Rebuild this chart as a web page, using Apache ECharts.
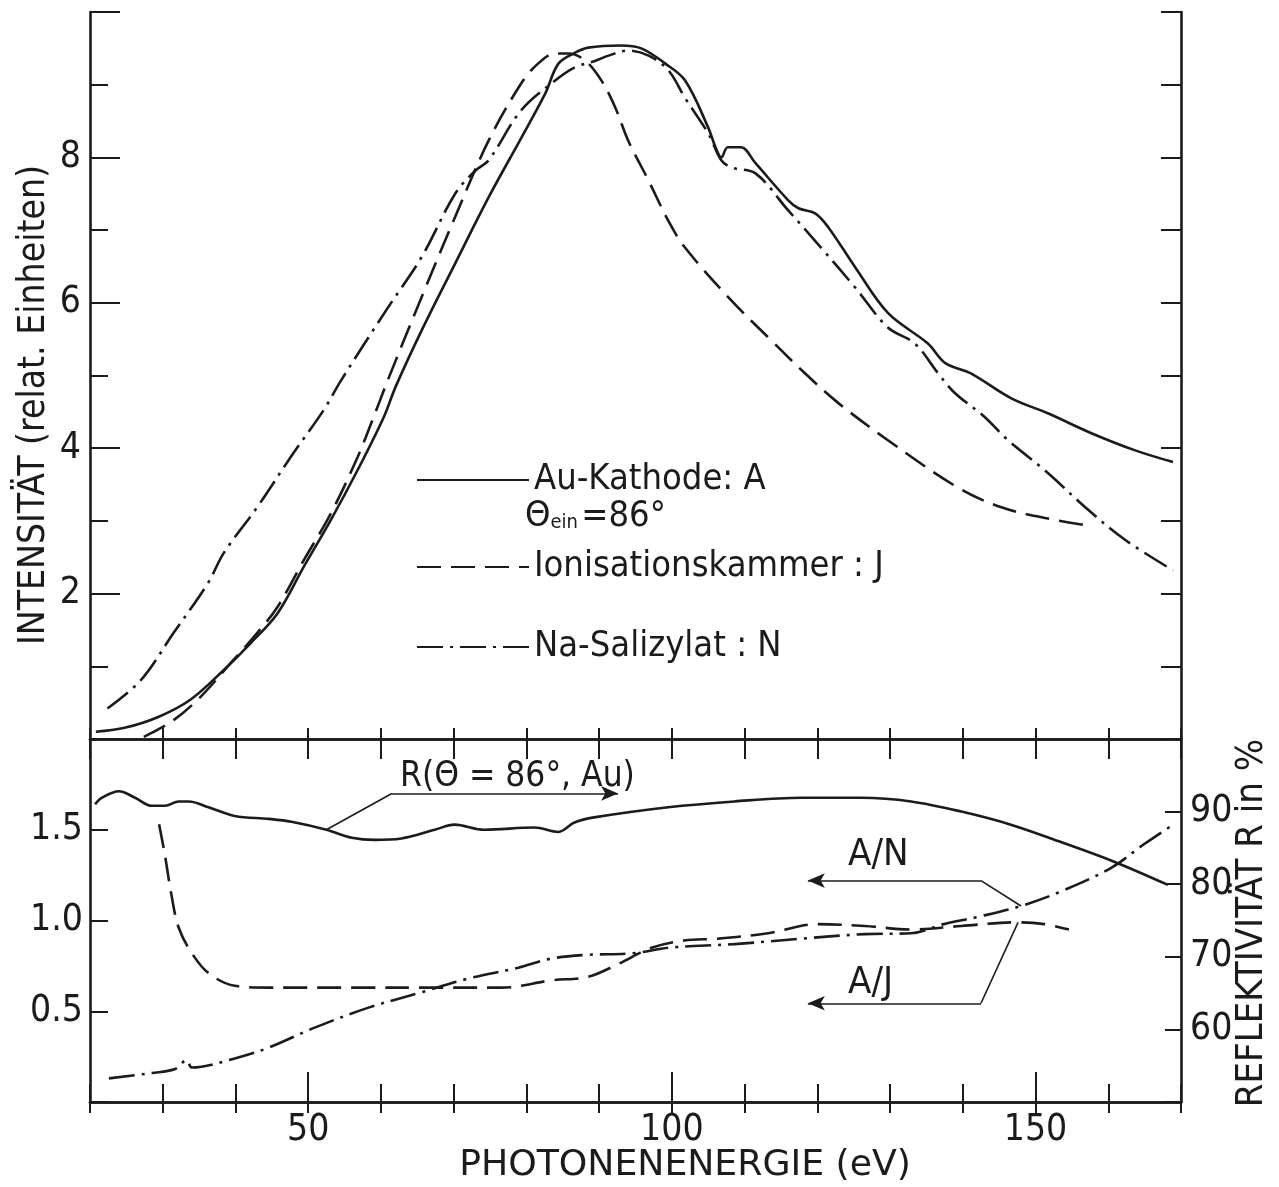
<!DOCTYPE html>
<html><head><meta charset="utf-8">
<script src="https://cdn.jsdelivr.net/npm/echarts@6/dist/echarts.min.js"></script>
<style>html,body{margin:0;padding:0;background:#fff}#c{width:1279px;height:1187px}</style>
</head><body><div id="c"></div>
<script>
// ---------- Data ----------
// Top panel: intensity (relat. units) vs photon energy (eV)
const auE = [20.8,24.6,29.3,33.8,38.4,42.1,45.8,49.4,53.1,56.8,60.4,62.0,65.6,70.2,74.8,79.3,82.6,84.4,86.7,88.5,93.0,95.8,99.1,101.8,105.0,106.0,106.8,107.7,109.5,111.5,116.0,117.4,119.7,121.5,125.2,129.7,135.2,137.6,141.1,146.6,151.7,157.6,163.7,168.9];
const auI = [0.10,0.15,0.30,0.54,0.95,1.32,1.73,2.37,3.01,3.70,4.43,4.84,5.62,6.54,7.45,8.27,8.88,9.29,9.44,9.51,9.54,9.50,9.29,9.06,8.41,8.14,8.00,8.14,8.14,7.92,7.41,7.30,7.23,7.04,6.49,5.86,5.44,5.17,5.03,4.69,4.48,4.21,3.97,3.81];

const ionE = [27.4,31.5,35.2,39.3,43.0,45.8,49.4,53.1,56.8,59.5,61.0,65.6,70.2,74.8,79.3,81.6,84.0,85.8,88.1,90.3,92.2,94.0,96.8,99.5,101.8,108.2,113.7,118.3,122.9,129.7,139.3,145.2,151.3,157.5];
const ionI = [0.03,0.26,0.58,1.04,1.46,1.82,2.46,3.10,3.88,4.56,4.95,6.08,7.18,8.23,9.02,9.29,9.43,9.43,9.33,9.06,8.69,8.23,7.68,7.13,6.76,6.03,5.48,5.03,4.62,4.11,3.46,3.19,3.04,2.93];

const naE = [22.4,27.0,31.5,36.2,38.4,43.0,47.6,52.1,54.5,61.0,65.6,70.2,73.0,74.8,79.3,84.0,86.7,89.5,91.3,94.0,96.8,99.5,101.8,105.0,106.8,108.2,111.5,116.0,120.5,125.2,129.7,133.4,136.6,138.9,143.0,146.2,151.7,156.8,162.3,168.9];
const naI = [0.42,0.81,1.46,2.14,2.56,3.19,3.88,4.52,4.93,5.94,6.63,7.50,7.82,7.96,8.65,9.06,9.24,9.33,9.40,9.47,9.40,9.20,8.82,8.33,7.96,7.86,7.78,7.27,6.76,6.21,5.66,5.44,5.03,4.76,4.43,4.11,3.66,3.19,2.74,2.32];

// Bottom panel: reflectivity R (%) (right axis) and ratios A/J, A/N (left axis)
const reflE = [20.7,21.6,24.0,26.2,28.5,30.3,32.2,33.6,36.3,39.9,44.6,47.7,52.5,56.0,59.1,62.8,67.4,70.1,74.2,81.1,84.4,86.6,89.3,99.5,108.6,117.8,126.0,132.9,139.8,146.6,153.5,160.8,168.2];
const reflR = [91.0,91.9,92.8,91.9,90.8,90.8,91.4,91.4,90.6,89.4,89.0,88.6,87.5,86.4,86.1,86.3,87.5,88.2,87.5,87.8,87.2,88.5,89.2,90.6,91.4,91.9,91.9,91.4,90.0,88.2,85.8,83.1,79.9];

const ajE = [29.5,30.3,31.2,32.2,34.0,36.3,39.9,44.6,49.1,58.3,65.6,76.6,83.4,88.5,92.6,97.2,101.7,106.4,113.2,120.1,126.5,132.9,139.8,147.6,151.2,154.6];
const ajV = [1.53,1.36,1.14,0.96,0.82,0.71,0.64,0.63,0.63,0.63,0.63,0.63,0.67,0.69,0.76,0.85,0.89,0.90,0.93,0.98,0.97,0.95,0.97,0.99,0.98,0.95];

const anE = [22.6,28.5,31.6,33.3,34.0,39.9,44.6,50.9,58.3,65.2,72.0,78.9,83.4,88.0,94.8,99.5,108.6,117.8,126.5,132.9,137.4,142.1,148.0,153.5,160.4,164.9,169.0];
const anV = [0.13,0.16,0.18,0.23,0.19,0.24,0.30,0.41,0.52,0.60,0.68,0.74,0.79,0.81,0.82,0.85,0.87,0.90,0.925,0.93,0.98,1.02,1.08,1.16,1.29,1.42,1.53];

// Axis labels / texts
const seriesNames = ['Au-Kathode: A', 'Ionisationskammer : J', 'Na-Salizylat : N'];
const xTitle = 'PHOTONENENERGIE (eV)';
const yTitleLeft = 'INTENSITÄT (relat. Einheiten)';
const yTitleRight = 'REFLEKTIVITÄT R in %';

// Leader lines of the annotations (data coordinates)
const leaderR  = [[52.5, 87.5], [61.5, 92.5], [92.6, 92.5]];   // right axis (R %)
const leaderAN = [[118.7, 1.22], [142.5, 1.22], [148.0, 1.08]]; // left axis
const leaderAJ = [[118.7, 0.544], [142.5, 0.544], [147.6, 0.99]];

// ---------- Chart ----------
const zip = (xs, ys) => xs.map((x, i) => [x, ys[i]]);
const INK = '#1b1b1b';
const FONT = "'DejaVu Sans Condensed','DejaVu Sans',sans-serif";
const DASH = [24, 10];
const DASHDOT = [26, 7, 3, 7];
const LW = 2.6;
const SMOOTH = 0.35;

const chart = echarts.init(document.getElementById('c'), null, {renderer: 'canvas'});

const axLine = {show: true, lineStyle: {color: INK, width: 2.6}};
const tick = (len) => ({show: true, inside: true, length: len, lineStyle: {color: INK, width: 2}});
const noLabel = {show: false};
const labelStyle = {color: INK, fontSize: 37, fontFamily: FONT};

function leader(pts, arrowAtStart, arrowAtEnd) {
  return [
    [{coord: pts[0], symbol: arrowAtStart ? 'arrow' : 'none', symbolSize: [11, 17]},
     {coord: pts[1], symbol: 'none'}],
    [{coord: pts[1], symbol: 'none'},
     {coord: pts[2], symbol: arrowAtEnd ? 'arrow' : 'none', symbolSize: [11, 17]}]
  ];
}
const markLineBase = {
  silent: true, animation: false,
  symbol: ['none', 'none'],
  label: {show: false},
  lineStyle: {color: INK, width: 1.6, type: 'solid'},
  emphasis: {disabled: true}
};

const legendBase = {
  orient: 'horizontal', left: 416, padding: 0, itemGap: 0,
  itemWidth: 112, itemHeight: 14, selectedMode: false,
  itemStyle: {opacity: 0, borderWidth: 0},
  textStyle: {color: INK, fontSize: 36, fontFamily: FONT, lineHeight: 40}
};

const lineSeries = (name, xi, yi, data, type, extra) => Object.assign({
  name, type: 'line', xAxisIndex: xi, yAxisIndex: yi, data,
  symbol: 'none', smooth: SMOOTH, lineStyle: {color: INK, width: LW, type}, itemStyle: {color: INK}
}, extra || {});

chart.setOption({
  animation: false,
  backgroundColor: '#fff',
  grid: [
    {left: 90, top: 12, width: 1091, height: 727},
    {left: 90, top: 739, width: 1091, height: 363}
  ],
  legend: [
    Object.assign({}, legendBase, {data: [seriesNames[0]], top: 460}),
    Object.assign({}, legendBase, {data: [seriesNames[1]], top: 547}),
    Object.assign({}, legendBase, {data: [seriesNames[2]], top: 627})
  ],
  xAxis: [
    {type: 'value', gridIndex: 0, position: 'bottom', min: 20, max: 170, interval: 10,
     axisLine: axLine, axisTick: tick(11), axisLabel: noLabel, splitLine: {show: false}},
    {type: 'value', gridIndex: 0, position: 'top', min: 20, max: 170, interval: 10,
     axisLine: axLine, axisTick: tick(20), axisLabel: noLabel, splitLine: {show: false}},
    {type: 'value', gridIndex: 1, position: 'top', min: 20, max: 170, interval: 10,
     axisLine: axLine, axisTick: tick(11), axisLabel: noLabel, splitLine: {show: false}},
    {type: 'value', gridIndex: 1, position: 'bottom', min: 20, max: 170, interval: 10,
     axisLine: axLine, axisTick: tick(18),
     axisLabel: Object.assign({show: true, margin: 10, formatter: v => (v % 50 === 0 ? String(v) : '')}, labelStyle),
     splitLine: {show: false}},
    {type: 'value', gridIndex: 1, position: 'bottom', min: 20, max: 170, interval: 10,
     axisLine: {show: false}, axisTick: Object.assign(tick(30), {customValues: [50, 100, 150]}),
     axisLabel: noLabel, splitLine: {show: false}}
  ],
  yAxis: [
    {type: 'value', gridIndex: 0, position: 'left', min: 0, max: 10, interval: 2,
     axisLine: axLine, axisTick: tick(30),
     minorTick: {show: true, splitNumber: 2, length: 18, lineStyle: {color: INK, width: 2}},
     axisLabel: Object.assign({show: true, margin: 9, formatter: v => (v > 0 && v < 10 ? String(v) : '')}, labelStyle),
     splitLine: {show: false}, minorSplitLine: {show: false}},
    {type: 'value', gridIndex: 0, position: 'right', min: 0, max: 10, interval: 1,
     axisLine: axLine, axisTick: tick(20), axisLabel: noLabel, splitLine: {show: false}},
    {type: 'value', gridIndex: 1, position: 'left', min: 0, max: 2, interval: 0.5,
     axisLine: axLine, axisTick: tick(18),
     axisLabel: Object.assign({show: true, margin: 7, formatter: v => (v > 0 && v < 2 ? v.toFixed(1) : '')}, labelStyle),
     splitLine: {show: false}},
    {type: 'value', gridIndex: 1, position: 'right', min: 50, max: 100, interval: 10,
     axisLine: axLine, axisTick: tick(16),
     axisLabel: Object.assign({show: true, margin: 9, formatter: v => (v > 50 && v < 100 ? String(v) : '')}, labelStyle),
     splitLine: {show: false}}
  ],
  series: [
    lineSeries(seriesNames[0], 0, 0, zip(auE, auI), 'solid'),
    lineSeries(seriesNames[1], 0, 0, zip(ionE, ionI), DASH),
    lineSeries(seriesNames[2], 0, 0, zip(naE, naI), DASHDOT),
    lineSeries('R(Θ=86°, Au)', 3, 3, zip(reflE, reflR), 'solid',
      {markLine: Object.assign({}, markLineBase, {data: leader(leaderR, false, true)})}),
    lineSeries('A/J', 3, 2, zip(ajE, ajV), DASH,
      {markLine: Object.assign({}, markLineBase, {data: leader(leaderAJ, true, false)})}),
    lineSeries('A/N', 3, 2, zip(anE, anV), DASHDOT,
      {markLine: Object.assign({}, markLineBase, {data: leader(leaderAN, true, false)})})
  ],
  graphic: [
    {type: 'text', x: 525, y: 517, z: 10, silent: true,
     style: {text: '{a|Θ}{s|ein} {a|=86°}', verticalAlign: 'middle', align: 'left', fill: INK,
       rich: {a: {fontSize: 36, fontFamily: FONT, fill: INK},
              s: {fontSize: 20, fontFamily: FONT, fill: INK, padding: [12, 0, 0, 0]}}}},
    {type: 'text', x: 400, y: 777, z: 10, silent: true,
     style: {text: 'R(Θ = 86°, Au)', fontSize: 35, fontFamily: FONT, fill: INK, align: 'left', verticalAlign: 'middle'}},
    {type: 'text', x: 848, y: 855, z: 10, silent: true,
     style: {text: 'A/N', fontSize: 38, fontFamily: FONT, fill: INK, align: 'left', verticalAlign: 'middle'}},
    {type: 'text', x: 848, y: 983, z: 10, silent: true,
     style: {text: 'A/J', fontSize: 38, fontFamily: FONT, fill: INK, align: 'left', verticalAlign: 'middle'}},
    {type: 'text', x: 685, y: 1166, scaleX: 1.15, z: 10, silent: true,
     style: {text: xTitle, fontSize: 35, fontFamily: FONT, fill: INK, align: 'center', verticalAlign: 'middle'}},
    {type: 'text', x: 34, y: 405, rotation: Math.PI / 2, z: 10, silent: true,
     style: {text: yTitleLeft, fontSize: 37, fontFamily: FONT, fill: INK, align: 'center', verticalAlign: 'middle'}},
    {type: 'text', x: 1252, y: 923, rotation: Math.PI / 2, z: 10, silent: true,
     style: {text: yTitleRight, fontSize: 38, fontFamily: FONT, fill: INK, align: 'center', verticalAlign: 'middle'}}
  ]
});
</script></body></html>
